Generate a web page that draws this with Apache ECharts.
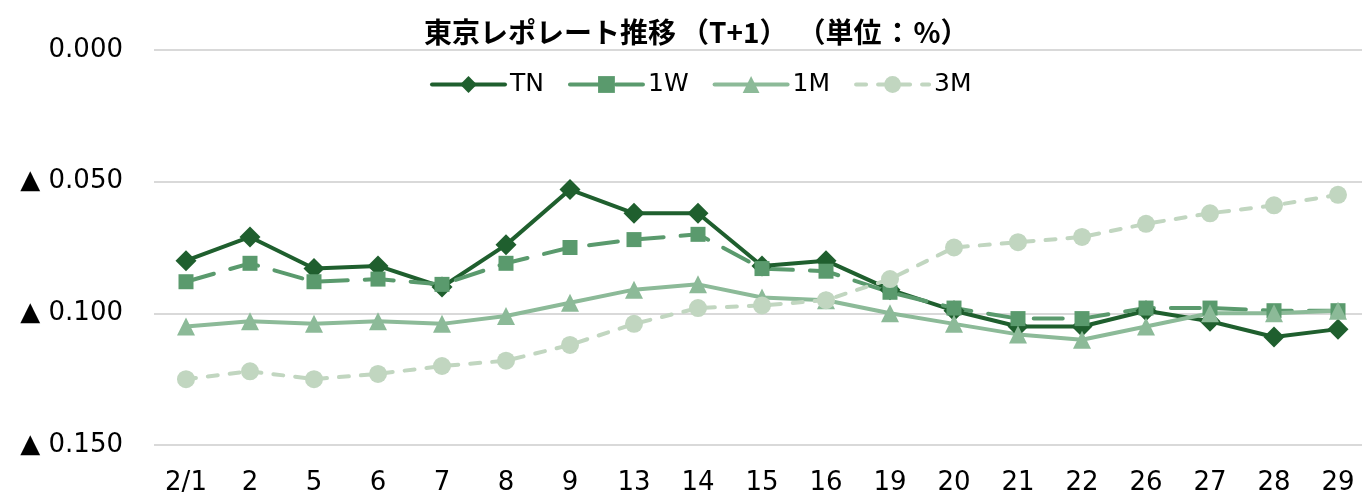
<!DOCTYPE html>
<html>
<head>
<meta charset="utf-8">
<script src="https://cdn.jsdelivr.net/npm/echarts@6/dist/echarts.min.js"></script>
<style>html,body{margin:0;padding:0;background:#fff}#c{width:1362px;height:494px}</style>
</head>
<body>
<div id="c"></div>
<script>
var categories = ['2/1','2','5','6','7','8','9','13','14','15','16','19','20','21','22','26','27','28','29'];
var seriesNames = ['TN','1W','1M','3M'];
var tnValues = [-0.080,-0.071,-0.083,-0.082,-0.090,-0.074,-0.053,-0.062,-0.062,-0.082,-0.080,-0.091,-0.099,-0.105,-0.105,-0.099,-0.103,-0.109,-0.106];
var w1Values = [-0.088,-0.081,-0.088,-0.087,-0.089,-0.081,-0.075,-0.072,-0.070,-0.083,-0.084,-0.092,-0.098,-0.102,-0.102,-0.098,-0.098,-0.099,-0.099];
var m1Values = [-0.105,-0.103,-0.104,-0.103,-0.104,-0.101,-0.096,-0.091,-0.089,-0.094,-0.095,-0.100,-0.104,-0.108,-0.110,-0.105,-0.100,-0.100,-0.099];
var m3Values = [-0.125,-0.122,-0.125,-0.123,-0.120,-0.118,-0.112,-0.104,-0.098,-0.097,-0.095,-0.087,-0.075,-0.073,-0.071,-0.066,-0.062,-0.059,-0.055];
var titleParts = [['t','東京レポレート推移'], ['l','（'], ['t','T+1'], ['r','）'], ['l','（'], ['t','単位'], ['c','：'], ['t','%'], ['r','）']];

var chart = echarts.init(document.getElementById('c'), null, {renderer: 'canvas'});
var font = 'DejaVu Sans, Verdana, sans-serif';
function mk(name, data, color, symbol, size, dash) {
  return {
    name: name, type: 'line', data: data,
    symbol: symbol, symbolSize: size, showSymbol: true,
    itemStyle: {color: color},
    lineStyle: {color: color, width: 4, type: dash || 'solid', cap: 'round', join: 'round'},
    animation: false
  };
}
var tStyle = {fontFamily: 'Noto Sans CJK JP, sans-serif', fontWeight: 'bold', fontSize: 28, color: '#000'};
function ts(pad) { return Object.assign({padding: pad}, tStyle); }
chart.setOption({
  backgroundColor: '#fff',
  title: {
    text: titleParts.map(function (p) { return '{' + p[0] + '|' + p[1] + '}'; }).join(''),
    left: 419, top: 13,
    textStyle: Object.assign({rich: {t: tStyle, l: ts([0, 0, 0, 5]), r: ts([0, 5, 0, 0]), c: ts([0, 2, 0, 2])}}, tStyle)
  },
  legend: {
    data: seriesNames, left: 425, top: 67,
    itemWidth: 73, itemHeight: 21, itemGap: 24,
    lineStyle: {width: 4},
    textStyle: {fontFamily: font, fontSize: 25, color: '#000'}
  },
  grid: {left: 154, right: -8, top: 50, bottom: 49, containLabel: false, outerBoundsMode: 'none'},
  xAxis: {
    type: 'category', data: categories, boundaryGap: true,
    axisLine: {show: false}, axisTick: {show: false},
    axisLabel: {fontFamily: font, fontSize: 26, color: '#000', margin: 25}
  },
  yAxis: {
    type: 'value', min: -0.15, max: 0, interval: 0.05,
    axisLine: {show: false}, axisTick: {show: false},
    splitLine: {lineStyle: {color: '#d9d9d9', width: 2}},
    axisLabel: {
      fontFamily: font, fontSize: 26, color: '#000', margin: 31,
      formatter: function (v) {
        if (Math.abs(v) < 1e-9) return '0.000';
        return (v < 0 ? '▲ ' : '') + Math.abs(v).toFixed(3);
      }
    }
  },
  series: [
    mk('TN', tnValues, '#1f5f2e', 'diamond', 21, 'solid'),
    mk('1W', w1Values, '#5a9a6d', 'rect', 15, [29, 17]),
    mk('1M', m1Values, '#8cba98', 'triangle', 18, 'solid'),
    mk('3M', m3Values, '#c1d6c0', 'circle', 18, [10, 12])
  ]
});
</script>
</body>
</html>
